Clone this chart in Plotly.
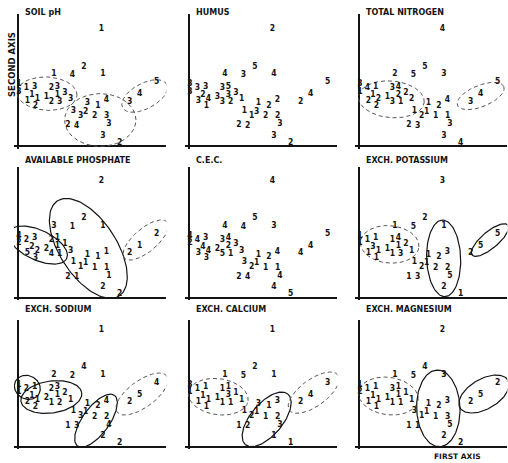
import numpy as np
import plotly.graph_objects as go

W, H = 508, 463

# ordination scores of the sites (first axis, second axis), same sites in every panel
site_x = [250, 198, 108, 163, 255, 416, 3, 3, 25, 50, 28, 58, 52, 100, 118, 118, 85, 100, 125,
          141, 158, 208, 240, 265, 335, 365, 166, 188, 203, 230, 266, 150, 176, 273, 255, 305, 42]
site_y = [351, 238, 215, 213, 215, 192, 185, 163, 173, 178, 134, 140, 120, 173, 178, 154, 146, 132, 131,
          160, 140, 128, 121, 138, 133, 156, 106, 91, 103, 90, 90, 63, 61, 65, 31, 10, 152]

# class of each site for every soil property
soil_ph = [1, 2, 1, 4, 1, 5, 1, 3, 1, 3, 1, 1, 2, 2, 3, 1, 1, 2, 3, 3, 3, 3, 1, 4, 3, 4, 3, 3, 2, 2, 3, 2, 4, 3, 3, 2, 1]
humus = [2, 5, 4, 3, 4, 5, 3, 3, 3, 3, 3, 4, 1, 3, 5, 3, 3, 3, 2, 3, 1, 1, 2, 2, 2, 4, 1, 1, 3, 2, 2, 2, 2, 3, 3, 2, 2]
total_nitrogen = [4, 5, 2, 5, 3, 5, 3, 1, 4, 1, 2, 2, 2, 3, 4, 2, 1, 3, 1, 2, 2, 1, 2, 4, 3, 4, 1, 2, 1, 1, 1, 2, 3, 3, 3, 4, 1]
available_phosphate = [2, 2, 3, 1, 1, 2, 4, 2, 2, 3, 5, 2, 3, 2, 1, 1, 2, 4, 1, 1, 3, 1, 1, 1, 2, 1, 1, 1, 1, 1, 1, 2, 1, 1, 2, 2, 2]
cec = [4, 5, 4, 4, 3, 5, 4, 2, 4, 3, 3, 4, 3, 3, 4, 2, 2, 5, 1, 3, 3, 1, 2, 4, 4, 4, 3, 2, 1, 1, 1, 2, 4, 4, 4, 5, 4]
exch_potassium = [3, 2, 1, 5, 1, 5, 1, 1, 1, 1, 1, 1, 1, 1, 4, 1, 1, 1, 3, 2, 1, 1, 2, 3, 2, 5, 1, 2, 1, 2, 2, 1, 3, 5, 2, 1, 3]
exch_sodium = [1, 4, 2, 2, 1, 4, 1, 1, 2, 1, 2, 1, 2, 2, 3, 1, 2, 1, 2, 2, 1, 1, 2, 4, 2, 5, 1, 3, 1, 2, 2, 1, 3, 4, 2, 2, 1]
exch_calcium = [1, 2, 1, 5, 1, 3, 3, 1, 1, 1, 1, 1, 1, 1, 1, 3, 1, 1, 1, 1, 1, 3, 1, 3, 2, 4, 1, 2, 1, 1, 2, 1, 2, 3, 1, 1, 1]
exch_magnesium = [2, 4, 1, 5, 3, 2, 1, 2, 1, 1, 1, 1, 1, 3, 1, 1, 1, 1, 1, 1, 1, 1, 2, 3, 2, 5, 3, 1, 1, 1, 3, 1, 1, 5, 2, 2, 1]

titles = ["SOIL pH", "HUMUS", "TOTAL NITROGEN", "AVAILABLE PHOSPHATE", "C.E.C.",
          "EXCH. POTASSIUM", "EXCH. SODIUM", "EXCH. CALCIUM", "EXCH. MAGNESIUM"]

# group ellipses: (centre x, centre y, semi-axis a, semi-axis b, angle deg, dashed)
soil_ph_groups = [(87, 157, 90, 50, -3, True), (247, 78, 107, 79, 0, True), (380, 150, 75, 38, 28, True)]
humus_groups = []
total_nitrogen_groups = [(97, 140, 99, 55, -5, True), (365, 150, 75, 32, 22, True)]
available_phosphate_groups = [(60, 158, 95, 45, -25, False), (211, 148, 170, 85, -57, False),
                              (383, 173, 84, 35, 40, True)]
cec_groups = []
exch_potassium_groups = [(92, 160, 88, 56, -5, True), (254, 118, 115, 51, 92, False), (393, 173, 70, 25, 40, False)]
exch_sodium_groups = [(28, 178, 40, 35, -30, False), (100, 149, 92, 48, 8, False),
                      (234, 78, 94, 40, 54, False), (372, 158, 92, 40, 36, True)]
exch_calcium_groups = [(88, 150, 90, 54, -8, True), (233, 82, 99, 48, 50, False), (374, 162, 90, 40, 36, True)]
exch_magnesium_groups = [(88, 152, 90, 56, -8, True), (238, 115, 115, 65, 92, False), (375, 158, 83, 45, 30, False)]

classes = [soil_ph, humus, total_nitrogen, available_phosphate, cec,
           exch_potassium, exch_sodium, exch_calcium, exch_magnesium]
groups = [soil_ph_groups, humus_groups, total_nitrogen_groups, available_phosphate_groups, cec_groups,
          exch_potassium_groups, exch_sodium_groups, exch_calcium_groups, exch_magnesium_groups]

# layout geometry (pixels)
col_axis_px = [18, 189, 359]
row_bottom_px = [146, 297.7, 446.7]
row_ymax = [397, 393, 380]
row_title_px = [12, 161, 309]
XMIN, XMAX, YMIN = -12, 445, -8
UNITS_PER_PX = 3.0

FONT = "DejaVu Sans, Arial, sans-serif"
NUM_FONT = "Liberation Sans Narrow, DejaVu Sans Condensed, Arial Narrow, sans-serif"
INK = "#141414"

fig = go.Figure()
layout = dict(width=W, height=H, margin=dict(l=0, r=0, t=0, b=0),
              paper_bgcolor="white", plot_bgcolor="white", showlegend=False, annotations=[])

for i in range(9):
    r, c = divmod(i, 3)
    k = "" if i == 0 else str(i + 1)
    left_px = col_axis_px[c] + XMIN / UNITS_PER_PX
    right_px = left_px + (XMAX - XMIN) / UNITS_PER_PX
    bot_px = row_bottom_px[r] - YMIN / UNITS_PER_PX
    top_px = bot_px - (row_ymax[r] - YMIN) / UNITS_PER_PX
    ax = dict(showgrid=False, showticklabels=False, ticks="", zeroline=True,
              zerolinecolor=INK, zerolinewidth=2, showline=False, fixedrange=True)
    layout["xaxis" + k] = dict(ax, domain=[left_px / W, min(right_px / W, 1.0)],
                               range=[XMIN, XMAX], anchor="y" + k)
    layout["yaxis" + k] = dict(ax, domain=[1 - bot_px / H, 1 - top_px / H],
                               range=[YMIN, row_ymax[r]], anchor="x" + k)

    for (cx, cy, a, b, ang, dashed) in groups[i]:
        t = np.linspace(0, 2 * np.pi, 120)
        th = np.radians(ang)
        ex = cx + a * np.cos(t) * np.cos(th) - b * np.sin(t) * np.sin(th)
        ey = cy + a * np.cos(t) * np.sin(th) + b * np.sin(t) * np.cos(th)
        fig.add_trace(go.Scatter(x=ex, y=ey, mode="lines", xaxis="x" + k, yaxis="y" + k,
                                 line=dict(color=INK if not dashed else "#555",
                                           width=1.2 if not dashed else 1,
                                           dash="4px,3px" if dashed else "solid"),
                                 hoverinfo="skip"))

    fig.add_trace(go.Scatter(x=site_x, y=site_y, mode="text", xaxis="x" + k, yaxis="y" + k,
                             text=[str(v) for v in classes[i]], cliponaxis=False,
                             textfont=dict(family=NUM_FONT, size=8.5, color=INK, weight="bold"),
                             hoverinfo="skip"))

    layout["annotations"].append(dict(text=titles[i], xref="paper", yref="paper",
                                      x=(col_axis_px[c] + 5) / W, y=1 - row_title_px[r] / H,
                                      xanchor="left", yanchor="middle", showarrow=False,
                                      font=dict(family=FONT, size=8, color=INK, weight="bold")))

layout["annotations"].append(dict(text="SECOND AXIS", xref="paper", yref="paper",
                                  x=12 / W, y=1 - 65 / H, textangle=-90, showarrow=False,
                                  xanchor="center", yanchor="middle",
                                  font=dict(family=FONT, size=8.5, color=INK, weight="bold")))
layout["annotations"].append(dict(text="FIRST AXIS", xref="paper", yref="paper",
                                  x=457 / W, y=1 - 456 / H, showarrow=False,
                                  xanchor="center", yanchor="middle",
                                  font=dict(family=FONT, size=7.5, color=INK, weight="bold")))

fig.update_layout(**layout)
fig.write_html("out.html", config={"displayModeBar": False},
               post_script="document.body.style.margin='0';document.body.style.overflow='hidden';")
